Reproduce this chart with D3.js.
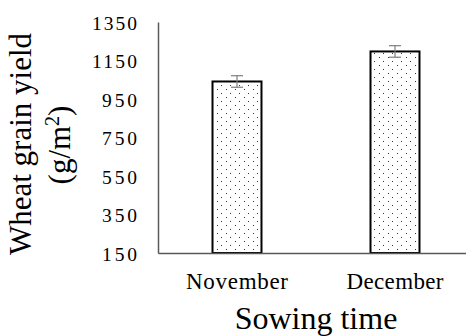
<!DOCTYPE html>
<html>
<head>
<meta charset="utf-8">
<script src="https://cdn.jsdelivr.net/npm/d3@7"></script>
<style>
  body { margin: 0; background: #fff; }
  svg { display: block; }
  text { font-family: "Liberation Serif", "Times New Roman", serif; fill: #000; }
</style>
</head>
<body>
<div id="chart"></div>
<script>
// data
const months = ["November", "December"];
const yieldMean = [1041, 1197];
const yieldErr = [30, 30];
const yTicks = [150, 350, 550, 750, 950, 1150, 1350];

const width = 466, height = 336;
const plotLeft = 158, plotRight = 474, plotTop = 22, plotBottom = 253;

const svg = d3.select("#chart").append("svg")
    .attr("width", width)
    .attr("height", height);

// dotted fill like excel's "5%" pattern
const pat = svg.append("defs").append("pattern")
    .attr("id", "dots")
    .attr("patternUnits", "userSpaceOnUse")
    .attr("width", 9)
    .attr("height", 8);
pat.append("rect").attr("width", 9).attr("height", 8).attr("fill", "#fff");
pat.append("rect").attr("x", 1).attr("y", 1).attr("width", 1).attr("height", 1).attr("fill", "#333");
pat.append("rect").attr("x", 5).attr("y", 5).attr("width", 1).attr("height", 1).attr("fill", "#333");

const x = d3.scaleBand()
    .domain(months)
    .range([plotLeft, plotRight])
    .paddingInner(0.69)
    .paddingOuter(0.345);

const y = d3.scaleLinear()
    .domain([150, 1350])
    .range([plotBottom, plotTop]);

// Y axis
const yAxis = svg.append("g")
    .attr("transform", "translate(" + plotLeft + ",0)")
    .call(d3.axisLeft(y).tickValues(yTicks).tickSize(0).tickPadding(21).tickFormat(d3.format("d")));
yAxis.select(".domain").attr("stroke", "#595959").attr("stroke-width", 1.5);
yAxis.selectAll(".tick text")
    .style("font-family", "Liberation Serif")
    .style("font-size", "19.5px")
    .attr("dy", "0.36em")
    .attr("textLength", function (d) { return d >= 1000 ? 45 : 35 })
    .attr("lengthAdjust", "spacing");

// bars
svg.append("g")
    .selectAll("rect")
    .data(months).enter()
    .append("rect")
    .attr("x", function (d) { return x(d) })
    .attr("y", function (d, i) { return y(yieldMean[i]) })
    .attr("width", x.bandwidth())
    .attr("height", function (d, i) { return y(150) - y(yieldMean[i]) })
    .attr("fill", "url(#dots)")
    .attr("stroke", "#000")
    .attr("stroke-width", 2);

// X axis
const xAxis = svg.append("g")
    .attr("transform", "translate(0," + plotBottom + ")")
    .call(d3.axisBottom(x).tickSize(0).tickPadding(20));
xAxis.select(".domain").attr("stroke", "#595959").attr("stroke-width", 1.5);
xAxis.selectAll(".tick text")
    .style("font-family", "Liberation Serif")
    .style("font-size", "23px")
    .attr("textLength", function (d) { return d == "November" ? 102 : 97 })
    .attr("lengthAdjust", "spacing");

// error bars
const err = svg.append("g").attr("stroke", "#7f7f7f").attr("stroke-width", 1.2);
months.forEach(function (m, i) {
    const cx = x(m) + x.bandwidth() / 2;
    const hi = y(yieldMean[i] + yieldErr[i]);
    const lo = y(yieldMean[i] - yieldErr[i]);
    err.append("line").attr("x1", cx).attr("x2", cx).attr("y1", hi).attr("y2", lo);
    err.append("line").attr("x1", cx - 6).attr("x2", cx + 6).attr("y1", hi).attr("y2", hi);
    err.append("line").attr("x1", cx - 6).attr("x2", cx + 6).attr("y1", lo).attr("y2", lo);
});

// axis titles
svg.append("text")
    .attr("x", (plotLeft + plotRight) / 2)
    .attr("y", 329)
    .attr("text-anchor", "middle")
    .style("font-size", "32px")
    .text("Sowing time");

svg.append("text")
    .attr("transform", "translate(31,144) rotate(-90)")
    .attr("text-anchor", "middle")
    .style("font-size", "31px")
    .text("Wheat grain yield");

const unit = svg.append("text")
    .attr("transform", "translate(70,145) rotate(-90)")
    .attr("text-anchor", "middle")
    .style("font-size", "31px");
unit.append("tspan").text("(g/m");
unit.append("tspan").attr("dy", -11).style("font-size", "20px").text("2");
unit.append("tspan").attr("dy", 11).text(")");
</script>
</body>
</html>
